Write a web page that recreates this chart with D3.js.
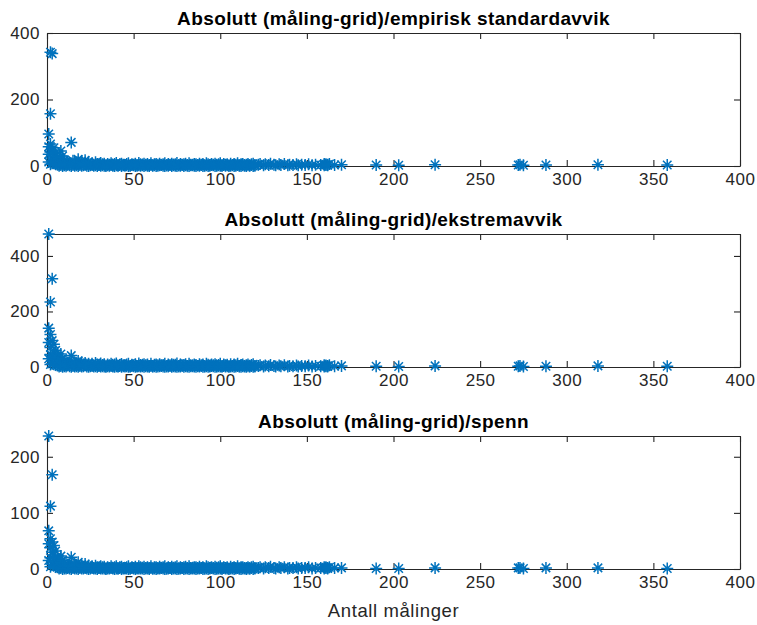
<!DOCTYPE html>
<html>
<head>
<meta charset="utf-8">
<script src="https://d3js.org/d3.v7.min.js"></script>
<style>
body { margin: 0; background: #fff; }
text { font-family: "Liberation Sans", Arial, Helvetica, sans-serif; fill: #262626; }
.title { font-weight: bold; font-size: 19px; letter-spacing: 0.4px; fill: #000; }
.tick text { font-size: 17px; letter-spacing: 0.5px; }
.domain, .tick line { stroke: #262626; stroke-width: 1.1; }
.star { stroke: #0072BD; stroke-width: 1.5; fill: none; }
</style>
</head>
<body>
<svg width="757" height="625"></svg>
<script>
// antall målinger per punkt
const antall = [
  1,1,1,1,2,2,2,2,2,3,3,3,3,4,4,4,5,5,5,6,6,6,
  7,7,8,8,9,9,10,10,11,12,13,14,14,15,16,17,18,19,20,21,22,23,24,25,
  26,27,28,29,30,31,32,33,34,35,36,37,38,39,40,41,42,43,44,45,
  46,47,48,49,50,51,52,53,54,55,56,57,58,59,60,61,62,63,64,65,
  66,67,68,69,70,71,72,73,74,75,76,77,78,79,80,81,82,83,84,85,
  86,87,88,89,90,91,92,93,94,95,96,97,98,99,100,101,102,103,104,105,
  106,107,108,109,110,111,112,113,114,115,116,117,118,119,120,
  122,123,125,126,128,129,131,132,134,135,137,139,140,142,144,145,147,149,151,153,
  155,158,160,160,161,161,162,162,163,166,170,190,203,224,272,273,275,288,318,358,
  7,8,9,10,11,12,13,14,15,16,17,18,19,20,21,22,23,24,25,26,
  27,28,29,30,31,32,33,34,35,36,37,38,39,40,41,42,43,44,45,46,
  47,48,49,50,51,52,53,54,55,56,57,58,59,60,61,62,63,64,65,66,
  67,68,69,70,71,72,73,74,75,76,77,78,79,80,81,82,83,84,85,86,
  87,88,89,90,91,92,93,94,95,96,97,98,99,100,101,102,103,104,105,106,
  107,108,109,110,111,112,113,114,115,116,117,118,119,120
];

const standardavvik = [
  96,58,35,12,342,157,66,42,5,338,48,24,8,55,30,10,40,18,6,28,12,4,
  22,6,45,9,30,5,18,4,14,11,9,71,7,16,12,8,20,10,15,7,17,6,12,5,
  8,4,11,6,3,9,5,7,2,6, 4,8,3,6,9,2,5,7,4,3,
  6,8,2,5,4,7,3,9,5,2, 7,4,6,3,8,2,5,6,4,7,
  3,5,8,2,6,4,7,3,5,9, 2,6,4,5,7,3,8,4,2,6,
  5,3,7,4,6,2,8,5,3,6, 4,7,2,5,8,3,6,4,5,2,
  7,3,6,4,8,2,5,6,3,4, 6,2,5,7,3,
  4,6,2,5,3,7,4,2,5,3, 6,2,4,3,5,2,4,3,5,2,
  4,3,6,2,5,3,4,2,6,3, 4,3,2,4,3,4,2,3,4,3,
  1,3,0,2,1,4,2,0,3,1, 2,0,3,1,2,4,1,0,2,3,
  1,2,0,3,1,2,1,0,2,1, 3,1,0,2,1,3,0,2,1,2,
  0,1,3,2,0,1,2,1,3,0, 2,1,0,3,1,2,0,1,2,3,
  1,0,2,1,3,0,2,1,0,2, 1,3,0,2,1,0,2,3,1,0,
  2,1,3,0,1,2,0,1,3,2, 0,1,2,1,0,3,1,2,0,1,
  2,0,1,3,1,0,2,1,0,2, 1,3,0,1
];

const ekstremavvik = [
  479,140,88,30,234,117,70,45,9,318,95,40,12,82,50,15,60,28,8,40,18,5,
  35,10,47,12,30,8,22,6,18,12,10,41,9,20,15,11,22,13,16,9,14,8,12,6,
  12,6,14,9,5,13,7,10,3,9, 6,12,4,9,13,3,7,11,6,5,
  9,12,3,8,6,10,4,13,7,3, 10,6,9,4,12,3,8,9,6,10,
  5,7,12,3,9,6,10,4,8,13, 3,9,6,7,10,4,12,6,3,9,
  7,4,10,6,9,3,12,8,4,9, 6,10,3,7,12,4,9,6,8,3,
  10,4,9,6,12,3,7,9,4,6, 9,3,7,10,4,
  4,6,2,5,3,7,4,2,5,3, 6,2,4,3,5,2,4,3,5,2,
  4,3,6,2,5,3,4,2,6,3, 4,3,2,4,3,4,2,3,4,3,
  2,4,1,3,2,6,3,1,4,2, 3,1,4,2,3,6,2,1,3,4,
  2,3,1,4,2,3,2,1,3,2, 4,2,1,3,2,4,1,3,2,3,
  1,2,4,3,1,2,3,2,4,1, 3,2,1,4,2,3,1,2,3,4,
  2,1,3,2,4,1,3,2,1,3, 2,4,1,3,2,1,3,4,2,1,
  3,2,4,1,2,3,1,2,4,3, 1,2,3,2,1,4,2,3,1,2,
  3,1,2,4,2,1,3,2,1,3, 2,4,1,2
];

const spenn = [
  237,68,45,15,112,54,38,20,4,168,48,30,8,42,25,7,32,14,4,22,10,3,
  18,5,23,6,15,4,11,3,9,6,5,21,4,10,7,5,12,6,8,4,9,3,6,3,
  5,2,6,3,2,5,3,4,1,3, 2,5,2,3,5,1,3,4,2,2,
  3,5,1,3,2,4,2,5,3,1, 4,2,3,2,5,1,3,3,2,4,
  2,3,5,1,3,2,4,2,3,5, 1,3,2,3,4,2,5,2,1,3,
  3,2,4,2,3,1,5,3,2,3, 2,4,1,3,5,2,3,2,3,1,
  4,2,3,2,5,1,3,3,2,2, 3,1,3,4,2,
  2,3,1,3,2,4,2,1,3,2, 3,1,2,2,3,1,2,2,3,1,
  2,2,3,1,3,2,2,1,3,2, 2,1,1,2,2,2,1,2,2,1,
  1,2,0,1,1,2,1,0,2,1, 1,0,2,1,1,2,1,0,1,2,
  1,1,0,2,1,1,1,0,1,1, 2,1,0,1,1,2,0,1,1,1,
  0,1,2,1,0,1,1,1,2,0, 1,1,0,2,1,1,0,1,1,2,
  1,0,1,1,2,0,1,1,0,1, 1,2,0,1,1,0,1,2,1,0,
  1,1,2,0,1,1,0,1,2,1, 0,1,1,1,0,2,1,1,0,1,
  1,0,1,2,1,0,1,1,0,1, 1,2,0,1
];

const titler = [
  'Absolutt (måling-grid)/empirisk standardavvik',
  'Absolutt (måling-grid)/ekstremavvik',
  'Absolutt (måling-grid)/spenn'
];
const yMaks = [400, 479, 237];
const yTicks = [[0, 200, 400], [0, 200, 400], [0, 100, 200]];
const xTicks = [0, 50, 100, 150, 200, 250, 300, 350, 400];

const svg = d3.select('svg');
const left = 47, right = 740, h = 133;
const tops = [33, 234, 436];
const x = d3.scaleLinear().domain([0, 400]).range([left, right]);

const r = 6, a = r * 0.7071;
const star = `M${-r},0H${r}M0,${-r}V${r}M${-a},${-a}L${a},${a}M${-a},${a}L${a},${-a}`;

[standardavvik, ekstremavvik, spenn].forEach((verdier, k) => {
  const top = tops[k];
  const y = d3.scaleLinear().domain([0, yMaks[k]]).range([top + h, top]);
  const g = svg.append('g');

  g.append('g')
    .attr('transform', `translate(0,${top + h})`)
    .call(d3.axisBottom(x).tickValues(xTicks).tickSize(-6).tickSizeOuter(0).tickPadding(7));
  g.append('g')
    .attr('transform', `translate(0,${top})`)
    .call(d3.axisTop(x).tickValues(xTicks).tickSize(-6).tickSizeOuter(0).tickFormat(''));
  g.append('g')
    .attr('transform', `translate(${left},0)`)
    .call(d3.axisLeft(y).tickValues(yTicks[k]).tickSize(-6).tickSizeOuter(0).tickPadding(7));
  g.append('g')
    .attr('transform', `translate(${right},0)`)
    .call(d3.axisRight(y).tickValues(yTicks[k]).tickSize(-6).tickSizeOuter(0).tickFormat(''));
  g.selectAll('.tick text').attr('fill', '#262626');
  g.selectAll('.domain, .tick line').attr('stroke', null);
  g.selectAll('g').attr('font-family', null).attr('font-size', null);

  g.append('text')
    .attr('class', 'title')
    .attr('x', (left + right) / 2)
    .attr('y', top - 8)
    .attr('text-anchor', 'middle')
    .text(titler[k]);

  g.selectAll('path.star')
    .data(verdier)
    .enter().append('path')
      .attr('class', 'star')
      .attr('d', star)
      .attr('transform', (d, i) => `translate(${x(antall[i])},${y(d)})`);
});

svg.append('text')
  .attr('x', (left + right) / 2)
  .attr('y', 617)
  .attr('text-anchor', 'middle')
  .style('font-size', '18.5px')
  .style('letter-spacing', '0.6px')
  .text('Antall målinger');
</script>
</body>
</html>
